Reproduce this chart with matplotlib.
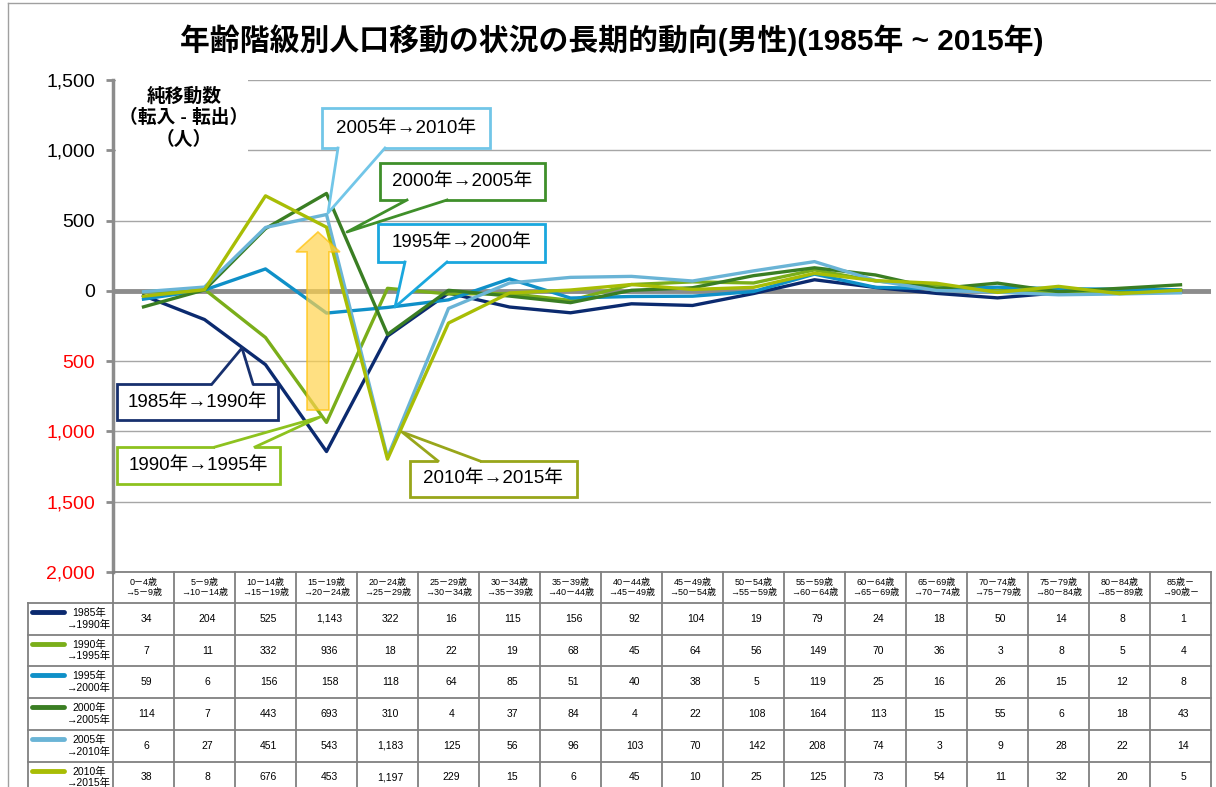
import matplotlib
matplotlib.use('Agg')
import matplotlib.pyplot as plt
from matplotlib.patches import Polygon, Rectangle, FancyArrow
from matplotlib.lines import Line2D
from matplotlib.transforms import Affine2D
from matplotlib.ticker import FuncFormatter

plt.rcParams['font.family'] = ['Liberation Sans', 'Noto Sans CJK JP']

# --- data -------------------------------------------------------------
ages = ['0－4歳\n→5－9歳', '5－9歳\n→10－14歳', '10－14歳\n→15－19歳', '15－19歳\n→20－24歳',
        '20－24歳\n→25－29歳', '25－29歳\n→30－34歳', '30－34歳\n→35－39歳', '35－39歳\n→40－44歳',
        '40－44歳\n→45－49歳', '45－49歳\n→50－54歳', '50－54歳\n→55－59歳', '55－59歳\n→60－64歳',
        '60－64歳\n→65－69歳', '65－69歳\n→70－74歳', '70－74歳\n→75－79歳', '75－79歳\n→80－84歳',
        '80－84歳\n→85－89歳', '85歳－\n→90歳－']
periods = ['1985年\n→1990年', '1990年\n→1995年', '1995年\n→2000年',
           '2000年\n→2005年', '2005年\n→2010年', '2010年\n→2015年']

m1985 = [-34, -204, -525, -1143, -322, -16, -115, -156, -92, -104, -19, 79, 24, -18, -50, -14, 8, 1]
m1990 = [-7, 11, -332, -936, 18, -22, -19, -68, 45, 64, 56, 149, 70, 36, 3, -8, -5, 4]
m1995 = [-59, 6, 156, -158, -118, -64, 85, -51, -40, -38, -5, 119, 25, 16, 26, 15, 12, 8]
m2000 = [-114, 7, 443, 693, -310, 4, -37, -84, 4, 22, 108, 164, 113, 15, 55, -6, 18, 43]
m2005 = [-6, 27, 451, 543, -1183, -125, 56, 96, 103, 70, 142, 208, 74, 3, -9, -28, -22, -14]
m2010 = [-38, 8, 676, 453, -1197, -229, -15, 6, 45, 10, 25, 125, 73, 54, -11, 32, -20, 5]

series = [m1985, m1990, m1995, m2000, m2005, m2010]
colors = ['#0B2A6F', '#7AAE1A', '#0F90C8', '#3A7E23', '#6AB4D6', '#A8BD05']
box_colors = ['#17306E', '#8DC21F', '#1AA7DE', '#3F8F2A', '#72C6E8', '#98A61A']

# --- figure -----------------------------------------------------------
W, H = 1216, 787
fig = plt.figure(figsize=(W / 100, H / 100), dpi=100)
px = Affine2D().scale(1 / W, -1 / H).translate(0, 1) + fig.transFigure

# outer frame
fig.add_artist(Line2D([8, 8], [3, H], transform=px, color='#A0A0A0', lw=1))
fig.add_artist(Line2D([8, W], [3, 3], transform=px, color='#A0A0A0', lw=1))

fig.text(612, 40, '年齢階級別人口移動の状況の長期的動向(男性)(1985年 ~ 2015年)', transform=px,
         ha='center', va='center', fontsize=21.5, fontweight='bold')

ax = fig.add_axes([113 / W, 1 - 572 / H, 1098 / W, 492 / H])
x = list(range(len(ages)))
for vals, c in zip(series, colors):
    ax.plot(x, vals, color=c, lw=2.4, zorder=3)

ax.set_xlim(-0.5, len(ages) - 0.5)
ax.set_ylim(-2000, 1500)
ax.set_yticks(range(-2000, 1501, 500))
ax.yaxis.set_major_formatter(FuncFormatter(lambda v, p: f'{abs(int(v)):,}'))
ax.set_xticks([])
ax.tick_params(axis='y', labelsize=14, length=5, width=2, color='#8C8C8C', pad=8)
for lbl, v in zip(ax.get_yticklabels(), ax.get_yticks()):
    lbl.set_color('red' if v < 0 else 'black')
ax.grid(axis='y', color='#A6A6A6', lw=1)
ax.set_axisbelow(True)
ax.axhline(0, color='#8C8C8C', lw=3.5, zorder=2)
for s in ['top', 'right', 'bottom']:
    ax.spines[s].set_visible(False)
ax.spines['left'].set_color('#8C8C8C')
ax.spines['left'].set_linewidth(2.5)

# yellow up arrow
ax.add_patch(FancyArrow(2.86, -848, 0, 1267, width=0.36, head_width=0.72, head_length=142,
                        length_includes_head=True, facecolor='#FFD34D', edgecolor='#FFC000',
                        alpha=0.7, lw=1.2, zorder=4))

# y label block
fig.add_artist(Rectangle((116, 78), 132, 82, transform=px, facecolor='white', edgecolor='none'))
fig.text(184, 118, '純移動数\n（転入 - 転出）\n（人）', transform=px, ha='center', va='center',
         fontsize=13.5, fontweight='bold', linespacing=1.25)


# callouts
def callout(text, box, base, tip, color):
    x0, y0, x1, y1 = box
    fig.add_artist(Rectangle((x0, y0), x1 - x0, y1 - y0, transform=px, facecolor='white',
                             edgecolor=color, lw=2, zorder=5))
    by = base[0][1]
    inward = 2 if by >= y1 - 1 else -2
    (bx1, _), (bx2, _) = base
    fig.add_artist(Polygon([(bx1, by - inward), (bx1, by), tip, (bx2, by), (bx2, by - inward)],
                           transform=px, facecolor='white', edgecolor='none', zorder=6))
    fig.add_artist(Line2D([bx1, tip[0], bx2], [by, tip[1], by], transform=px, color=color,
                          lw=2, zorder=7))
    fig.text((x0 + x1) / 2, (y0 + y1) / 2, text, transform=px, ha='center', va='center',
             fontsize=13.5, zorder=8)


callout('2005年→2010年', (322, 108, 490, 148), [(338, 148), (385, 148)], (328, 213), box_colors[4])
callout('2000年→2005年', (380, 163, 545, 200), [(407, 200), (447, 200)], (347, 232), box_colors[3])
callout('1995年→2000年', (378, 224, 545, 262), [(405, 262), (447, 262)], (395, 307), box_colors[2])
callout('1985年→1990年', (117, 384, 278, 420), [(212, 384), (253, 384)], (242, 348), box_colors[0])
callout('1990年→1995年', (117, 447, 280, 484), [(215, 447), (255, 447)], (320, 417), box_colors[1])
callout('2010年→2015年', (410, 461, 577, 497), [(438, 461), (480, 461)], (402, 432), box_colors[5])

# --- data table -------------------------------------------------------
n = len(ages)
cw = 1098 / n
col_edges = [113 + cw * i for i in range(n + 1)]
row_edges = [572, 603] + [603 + 31.7 * (k + 1) for k in range(len(periods))]
gc = '#808080'
for xe in col_edges:
    fig.add_artist(Line2D([xe, xe], [572, H], transform=px, color=gc, lw=1.3))
fig.add_artist(Line2D([28, 28], [603, H], transform=px, color=gc, lw=1.3))
fig.add_artist(Line2D([113, 1211], [572, 572], transform=px, color=gc, lw=1.3))
for ye in row_edges[1:]:
    fig.add_artist(Line2D([28, 1211], [ye, ye], transform=px, color=gc, lw=1.3))

for i, a in enumerate(ages):
    fig.text((col_edges[i] + col_edges[i + 1]) / 2, 587.5, a, transform=px, ha='center',
             va='center', fontsize=6.5, linespacing=1.15)

for r, (p, vals, c) in enumerate(zip(periods, series, colors)):
    yc = (row_edges[r + 1] + row_edges[r + 2]) / 2
    fig.add_artist(Line2D([32, 64], [row_edges[r + 1] + 9, row_edges[r + 1] + 9], transform=px,
                          color=c, lw=3.5, solid_capstyle='round'))
    fig.text(89, yc, p, transform=px, ha='center', va='center', fontsize=7.5, linespacing=1.2)
    for i, v in enumerate(vals):
        fig.text((col_edges[i] + col_edges[i + 1]) / 2 + 3, yc, f'{abs(v):,}', transform=px,
                 ha='center', va='center', fontsize=7.5)

fig.savefig('out.png', dpi=100)
